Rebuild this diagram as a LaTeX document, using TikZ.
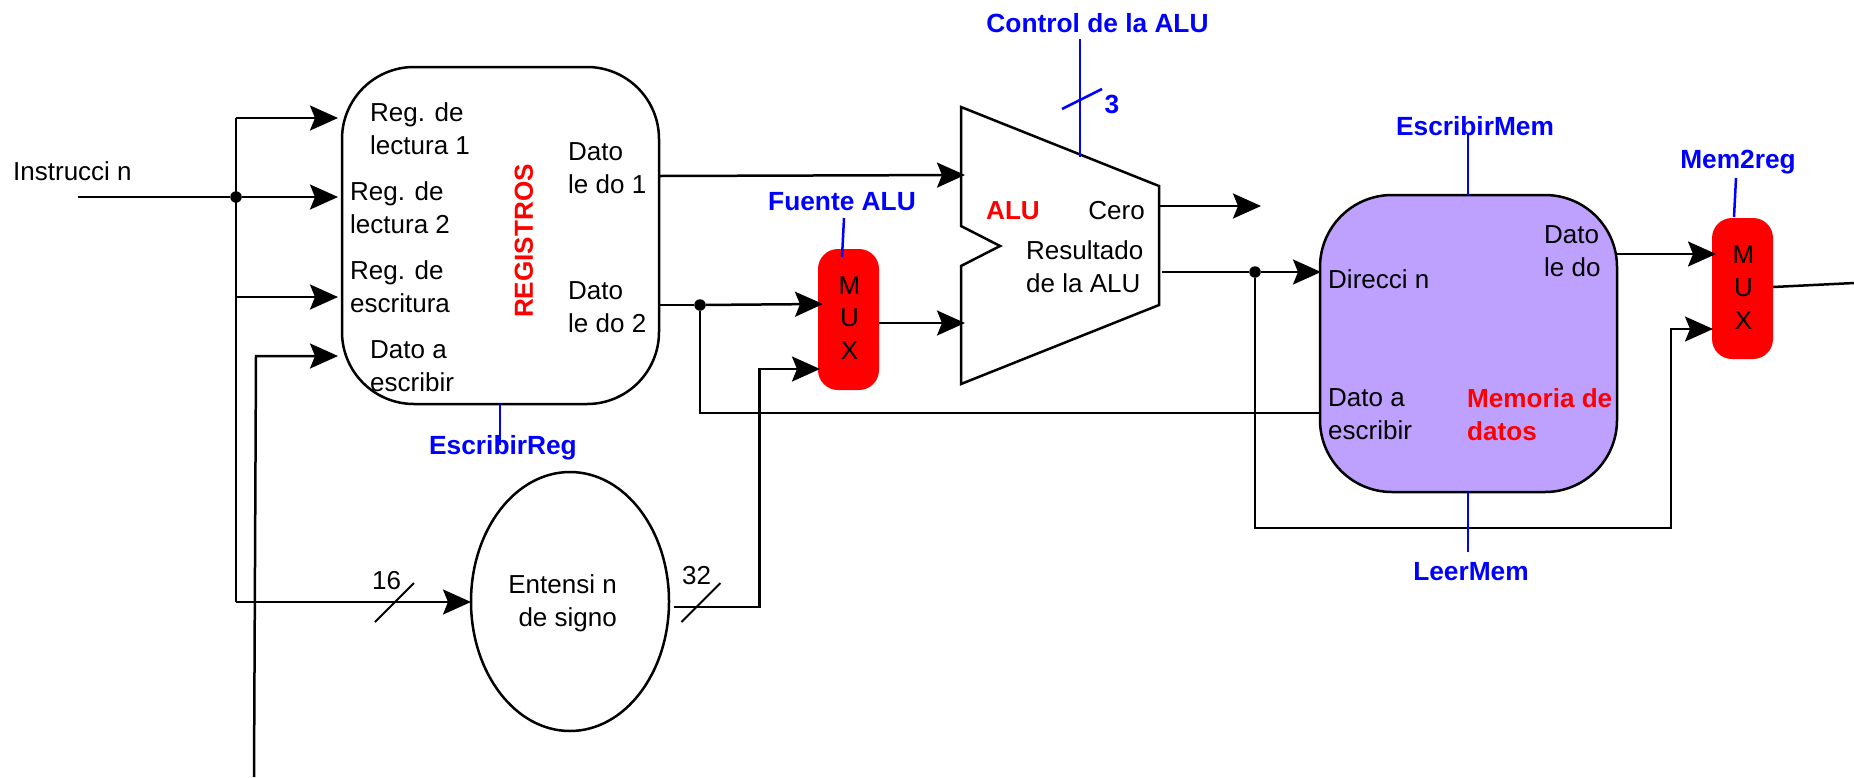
\documentclass[tikz,border=0pt]{standalone}
\usepackage{fontspec}
\setmainfont{Liberation Sans}
\usetikzlibrary{arrows.meta,shapes.geometric}
\tikzset{
  wire/.style={line width=2.5pt,black},
  arr/.style={wire,shorten >=-2pt,-{Stealth[length=28pt,width=25pt,inset=5pt]}},
  ctl/.style={line width=2.5pt,blue},
  txt/.style={font=\fontsize{26}{32.7}\selectfont,inner sep=0pt,align=left,anchor=west,black},
  blue label/.style={font=\fontsize{26.3}{32.7}\selectfont\bfseries,inner sep=0pt,text=blue},
  red label/.style={font=\fontsize{26.1}{32.7}\selectfont\bfseries,inner sep=0pt,text=red,align=left},
  muxbox/.style={draw=none,fill=red,rounded corners=20pt,minimum width=61pt,minimum height=141pt,inner sep=0pt},
  bigbox/.style={draw=black,line width=2.5pt,rounded corners=72pt,inner sep=0pt},
  dot/.style={circle,fill=black,draw=none,minimum size=11.5pt,inner sep=0pt},
}
\begin{document}
\begin{tikzpicture}[x=1pt,y=-1pt]
\useasboundingbox (0,0) rectangle (1854,777);

% Blocks
\node[bigbox,minimum width=317pt,minimum height=337pt] (regs) at (500.5,235.5) {};
\node[bigbox,fill={rgb,255:red,190;green,160;blue,255},minimum width=297pt,minimum height=297pt] (mem) at (1468.5,343.5) {};
\node[draw=black,line width=2.5pt,ellipse,minimum width=198pt,minimum height=259pt,inner sep=0pt] (ext) at (570,601.5) {};
\node[muxbox] (mux1) at (848.5,319.5) {};
\node[muxbox] (mux2) at (1742.5,288.5) {};
\node[txt,anchor=center,align=center] (tm1) at (849.5,318) {M\\U\\X};
\node[txt,anchor=center,align=center] (tm2) at (1743.5,287.5) {M\\U\\X};

% ALU outline
\coordinate (a1) at (961,107);
\coordinate (a2) at (1159,186);
\coordinate (a3) at (1159,305);
\coordinate (a4) at (961,384);
\coordinate (a5) at (961,266);
\coordinate (a6) at (1000,246);
\coordinate (a7) at (961,226);
\draw[wire,line join=miter] (a1) -- (a2) -- (a3) -- (a4) -- (a5) -- (a6) -- (a7) -- cycle;

% Junctions
\node[dot] (j1) at (236,197) {};
\node[dot] (j2) at (700,305) {};
\node[dot] (j3) at (1255,272) {};

% Free ends and pin points
\coordinate (instr) at (78,197);
\coordinate (rt1) at (336,118);
\coordinate (rt2) at (336,197);
\coordinate (rt3) at (336,297);
\coordinate (rt4) at (336,356);
\coordinate (busb) at (236,602);
\coordinate (wdb) at (254,777);
\coordinate (wdm) at (256,356);
\coordinate (ein) at (469,602);
\coordinate (eout) at (674,607);
\coordinate (ecor) at (759.5,607);
\coordinate (m1b) at (818,369);
\coordinate (m1a) at (821,304);
\coordinate (d1o) at (660,176);
\coordinate (d2o) at (659,305);
\coordinate (ai1) at (963,175);
\coordinate (ai2) at (963,323);
\coordinate (mo) at (879,323);
\coordinate (co) at (1159,206);
\coordinate (ct) at (1259,206);
\coordinate (ro) at (1162,272);
\coordinate (mdir) at (1319,272);
\coordinate (mwd) at (1320,413);
\coordinate (mrd) at (1617,254);
\coordinate (m2a) at (1714,254);
\coordinate (m2b) at (1711,329);
\coordinate (m2cor) at (1671,528);
\coordinate (m2o) at (1773,287);
\coordinate (far) at (1854,283);

% Wires
\draw[wire] (instr) -- (j1);
\draw[wire] (rt1 -| j1) -- (busb);
\draw[arr] (j1) -- (rt2);
\draw[arr] (j1 |- rt1) -- (rt1);
\draw[arr] (j1 |- rt3) -- (rt3);
\draw[arr] (wdb) -- (wdm) -- (rt4);
\draw[arr] (busb) -- (ein);
\draw[arr] (eout) -- (ecor) -- (ecor |- m1b) -- (m1b);
\draw[arr] (d1o) -- (ai1);
\draw[wire] (d2o) -- (j2);
\draw[arr] (j2) -- (m1a);
\draw[wire] (j2) |- (mwd);
\draw[arr] (mo) -- (ai2);
\draw[arr] (co) -- (ct);
\draw[wire] (ro) -- (j3);
\draw[arr] (j3) -- (mdir);
\draw[arr] (j3) |- (m2cor) -- (m2cor |- m2b) -- (m2b);
\draw[arr] (mrd) -- (m2a);
\draw[wire] (m2o) -- (far);

% Bus slashes
\draw[line width=2pt] (375,622) coordinate (s1a) -- (414,583) coordinate (s1b);
\draw[line width=2pt] (681.5,622) coordinate (s2a) -- (720.5,583) coordinate (s2b);

% Control labels
\node[blue label] (lctl) at (1097.5,23) {Control de la ALU};
\node[blue label] (l3) at (1112,104) {3};
\node[blue label] (lfu) at (842,202) {Fuente ALU};
\node[blue label] (lesr) at (503,448) {EscribirReg};
\node[blue label] (lesm) at (1475,126) {EscribirMem};
\node[blue label] (llee) at (1471,572) {LeerMem};
\node[blue label] (lm2r) at (1738,162) {Mem2reg};

\coordinate (c1a) at (1080,39);
\coordinate (c1b) at (1080,157);
\draw[ctl] (c1a) -- (c1b);
\draw[ctl] (1062,109) coordinate (c3a) -- (1102,89) coordinate (c3b);
\coordinate (f1) at (844,218);
\coordinate (f2) at (842,257);
\draw[ctl] (f1) -- (f2);
\coordinate (g1) at (500,404);
\coordinate (g2) at (500,445);
\draw[ctl] (g1) -- (g2);
\coordinate (h1) at (1468,134);
\coordinate (h2) at (1468,195);
\draw[ctl] (h1) -- (h2);
\coordinate (i1) at (1468,492);
\coordinate (i2) at (1468,552);
\draw[ctl] (i1) -- (i2);
\coordinate (k1) at (1736,178);
\coordinate (k2) at (1734,217);
\draw[ctl] (k1) -- (k2);

% Texts
\node[txt] (tin) at (13,171) {Instrucci n};
\node[txt] (tr1) at (370,129) {Reg. de\\lectura 1};
\node[txt] (tr2) at (350,208) {Reg. de\\lectura 2};
\node[txt] (tr3) at (350,287) {Reg. de\\escritura};
\node[txt] (tr4) at (370,366) {Dato a\\escribir};
\node[txt] (tl1) at (568,168) {Dato\\le do 1};
\node[txt] (tl2) at (568,307) {Dato\\le do 2};
\node[red label,rotate=90] (tregs) at (524,241) {REGISTROS};
\node[red label] (talu) at (1013,211) {ALU};
\node[txt,anchor=east] (tcero) at (1145,211) {Cero};
\node[txt] (tres) at (1026,266.5) {Resultado\\de la ALU};
\node[txt] (tdir) at (1328,279) {Direcci n};
\node[txt] (tdw) at (1328,414.5) {Dato a\\escribir};
\node[txt] (tdr) at (1544,251.5) {Dato\\le do};
\node[red label,anchor=west] (tmem) at (1467,414.5) {Memoria de\\datos};
\node[txt,anchor=east,align=right] (text) at (617,603) {Entensi n\\de signo};
\node[txt,anchor=center] (t16) at (386.5,581) {16};
\node[txt,anchor=center] (t32) at (696.5,576) {32};
\end{tikzpicture}
\end{document}
